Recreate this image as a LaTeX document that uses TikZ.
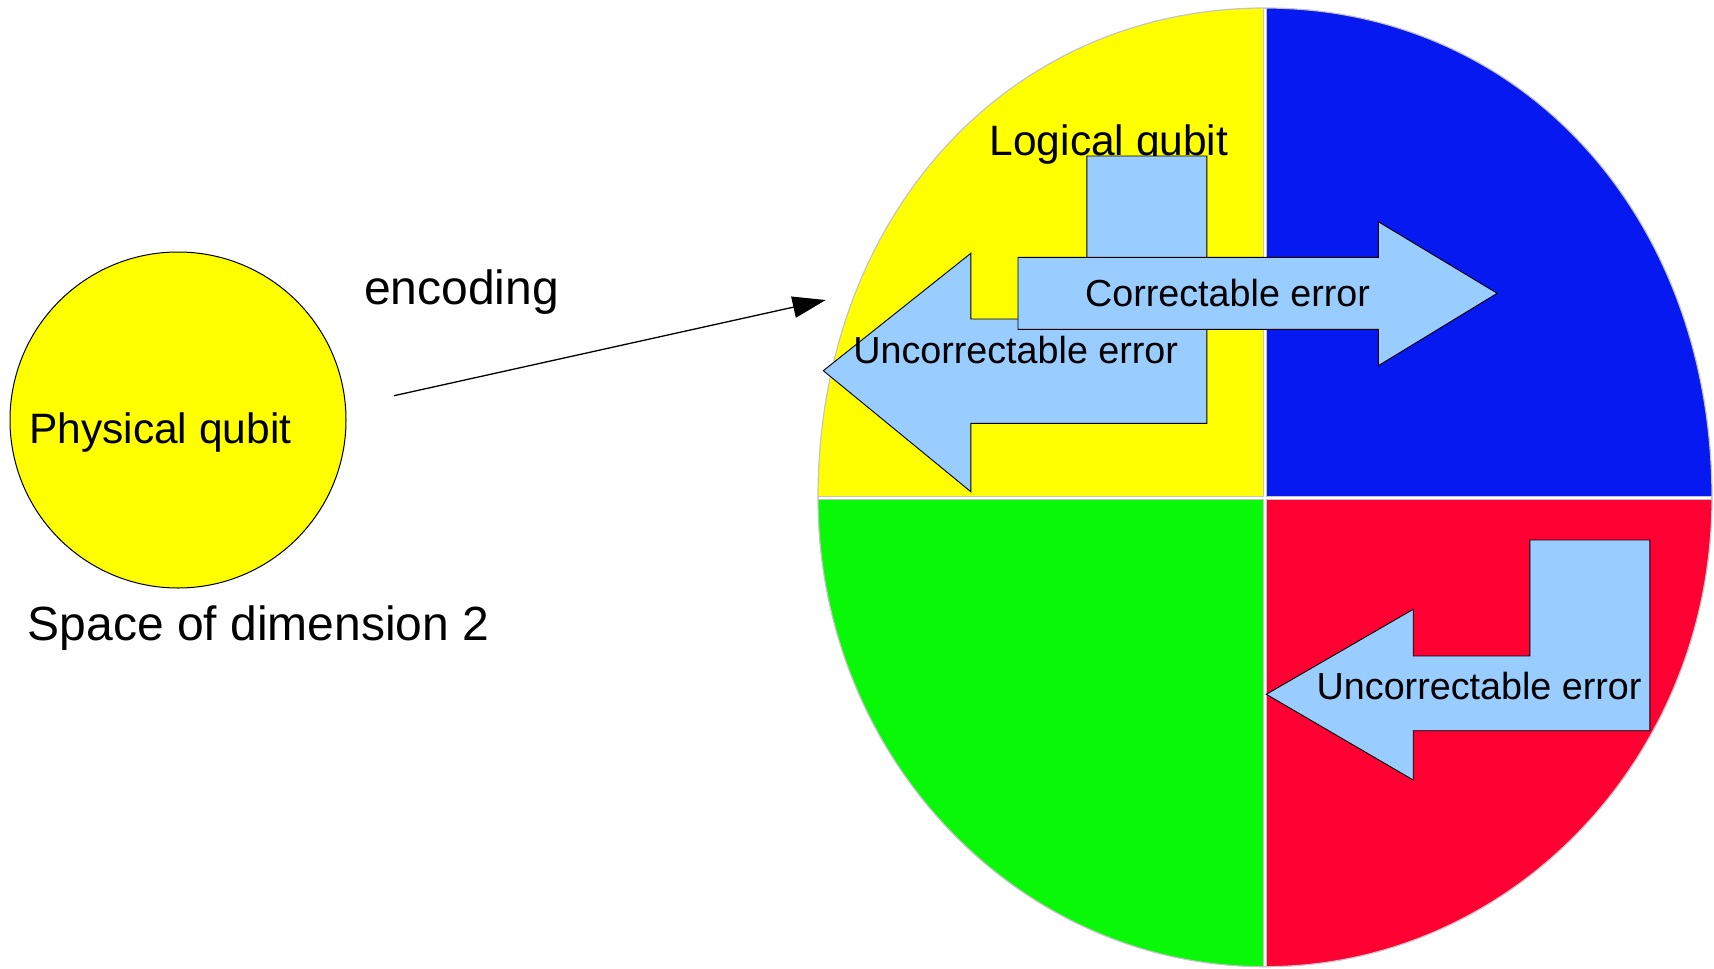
\documentclass[tikz,border=0pt]{standalone}
\usepackage{fontspec}
\setmainfont{Liberation Sans}
\usetikzlibrary{arrows.meta}

\definecolor{qyellow}{HTML}{FFFF00}
\definecolor{qblue}{HTML}{0519F0}
\definecolor{qgreen}{HTML}{08F808}
\definecolor{qred}{HTML}{FF0033}
\definecolor{errblue}{HTML}{99CCFF}
\definecolor{seam}{HTML}{C4C4C4}

\begin{document}
\begin{tikzpicture}[x=1pt,y=-1pt,
  quadrant/.style={draw=seam,line width=1.2pt},
  errarrow/.style={fill=errblue,draw=black,line width=0.9pt,line join=miter},
  bigtxt/.style={inner sep=0pt,anchor=base,font=\fontsize{48}{58}\selectfont},
  midtxt/.style={inner sep=0pt,anchor=base,font=\fontsize{42.5}{51}\selectfont},
  errtxt/.style={inner sep=0pt,anchor=base,font=\fontsize{37.7}{45}\selectfont}]
\useasboundingbox (0,0) rectangle (1714,969);

% physical qubit
\draw[fill=qyellow,line width=1pt] (178,420) circle[radius=168pt];
\node[midtxt] (phys) at (160.3,443.3) {Physical qubit};
\node[bigtxt] (space) at (258.5,640) {Space of dimension 2};

% encoding map
\node[bigtxt] (enc) at (461.6,304) {encoding};
\coordinate (encA) at (394,395.7);
\coordinate (encB) at (825.7,300);
\draw[line width=1.3pt,-{Triangle[length=33pt,width=21.5pt]}] (encA) -- (encB);

% code space split into four subspaces
\coordinate (ctr) at (1265,498);
\coordinate (west) at (818,498);
\coordinate (east) at (1712,498);
\coordinate (north) at (1265,8);
\coordinate (south) at (1265,966.7);
\fill[qyellow] (ctr) -- (west) .. controls (818,216) and (1008,8) .. (north) -- cycle;
\fill[qblue] (ctr) -- (north) .. controls (1522,8) and (1712,216) .. (east) -- cycle;
\fill[qgreen] (ctr) -- (west) arc[start angle=180,end angle=270,x radius=447pt,y radius=468.7pt] -- cycle;
\fill[qred] (ctr) -- (east) arc[start angle=0,end angle=-90,x radius=447pt,y radius=468.7pt] -- cycle;
\draw[quadrant] (west) .. controls (818,216) and (1008,8) .. (north)
  .. controls (1522,8) and (1712,216) .. (east);
\draw[quadrant] (west) arc[start angle=180,end angle=360,x radius=447pt,y radius=468.7pt];
\draw[seam,line width=4pt] (north) -- (south);
\draw[seam,line width=4pt] (west) -- (east);
\draw[white,line width=1.6pt] (1265,9) -- (1265,965.7);
\draw[white,line width=1.6pt] (819,498) -- (1711,498);

\node[midtxt] (logical) at (1109,155) {Logical qubit};

% uncorrectable error inside the logical subspace
\draw[errarrow] (1086.8,156) -- (1206.9,156) -- (1206.9,423.3) -- (970.8,423.3)
  -- (970.8,491.7) -- (823.3,370.7) -- (970.8,253.3) -- (970.8,319) -- (1086.8,319) -- cycle;
% correctable error towards the blue subspace
\draw[errarrow] (1018,257.3) -- (1378.3,257.3) -- (1378.3,221.7) -- (1497.2,293.3)
  -- (1378.3,365.7) -- (1378.3,329.3) -- (1018,329.3) -- cycle;
% uncorrectable error from the red subspace
\draw[errarrow] (1529.8,540) -- (1649.9,540) -- (1649.9,730.7) -- (1413.2,730.7)
  -- (1413.2,780) -- (1266.3,694.3) -- (1413.2,609.3) -- (1413.2,656) -- (1529.8,656) -- cycle;

\node[errtxt] (corr) at (1227.6,306) {Correctable error};
\node[errtxt] (uncA) at (1015.7,363.5) {Uncorrectable error};
\node[errtxt] (uncB) at (1479.1,699.5) {Uncorrectable error};
\end{tikzpicture}
\end{document}
